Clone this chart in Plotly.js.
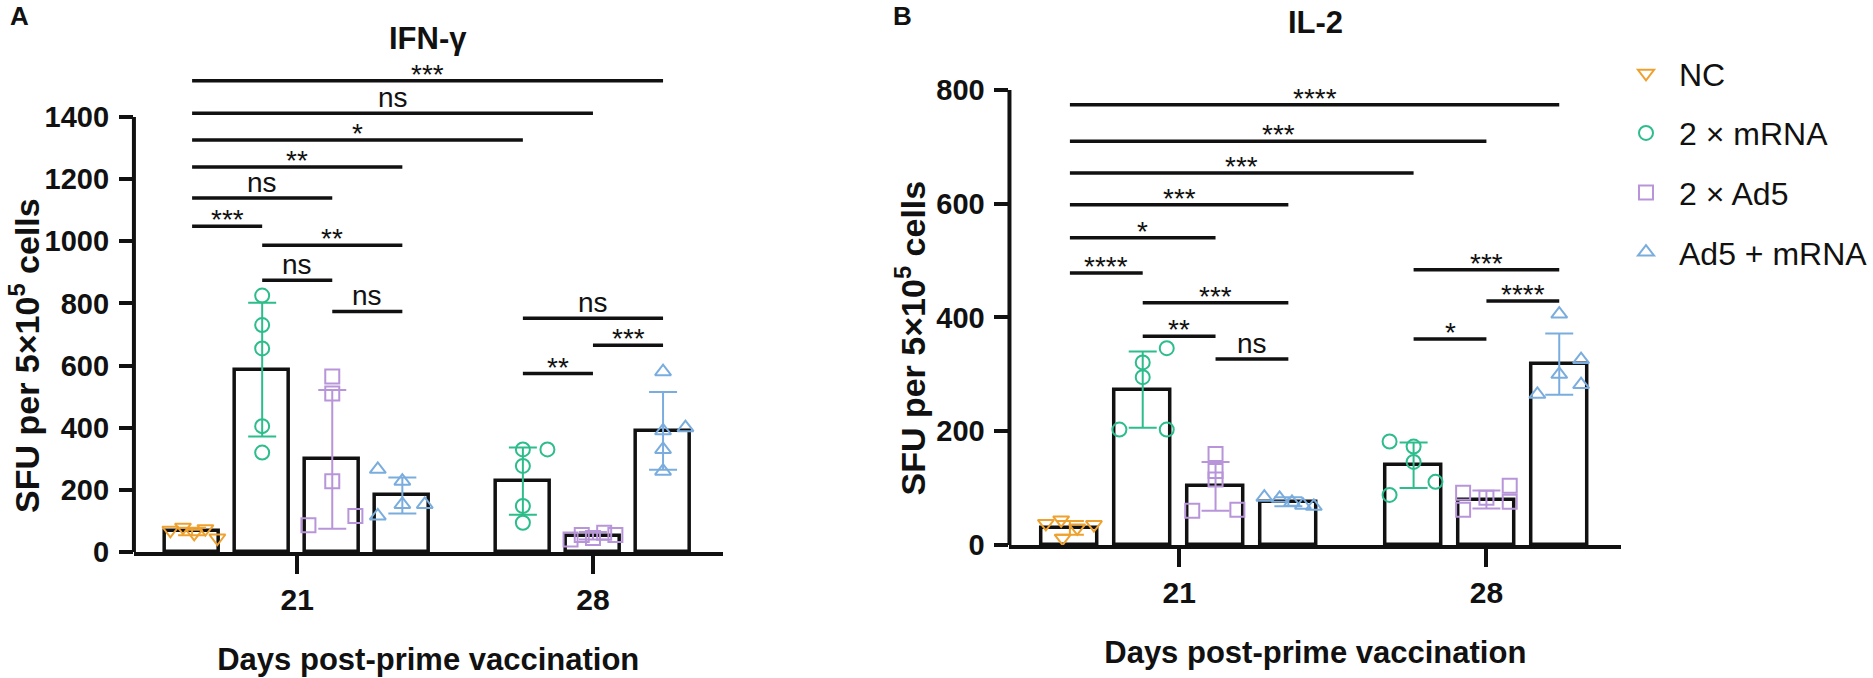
<!DOCTYPE html>
<html>
<head>
<meta charset="utf-8">
<script src="https://cdn.plot.ly/plotly-3.0.1.min.js"></script>
<style>
  html, body { margin: 0; padding: 0; background: #fff; }
</style>
</head>
<body>
<div id="chart" style="width:1873px;height:678px"></div>
<script>
var days = ["21", "28"];
var groups = ["NC", "2 × mRNA", "2 × Ad5", "Ad5 + mRNA"];

// IFN-γ: bar mean and SD for each group, [day 21, day 28] (null = no bar)
var ifnMean = [[66, null], [587, 228], [298, 52], [182, 390]];
var ifnSd = [[12, null], [215, 108], [223, 12], [58, 125]];
// single mice
var ifnDay21 = [[70, 80, 60, 75, 45], [825, 730, 655, 405, 320], [565, 510, 228, 116, 86], [266, 228, 153, 153, 116]];
var ifnDay28 = [null, [330, 330, 277, 148, 94], [40, 55, 45, 62, 55], [580, 400, 390, 330, 260]];

// IL-2
var il2Mean = [[30, null], [273, 140], [103, 80], [76, 318]];
var il2Sd = [[12, null], [67, 40], [43, 16], [8, 54]];
var il2Day21 = [[38, 44, 12, 30, 36], [346, 321, 295, 203, 203], [160, 130, 115, 60, 62], [84, 82, 75, 70, 68]];
var il2Day28 = [null, [182, 173, 146, 111, 88], [92, 62, 83, 104, 76], [406, 326, 300, 282, 265]];

// comparisons (same pairs in both panels)
var sigFrom = ["NC21", "NC21", "NC21", "NC21", "NC21", "NC21", "M21", "M21", "A21", "M28", "A28", "M28"];
var sigTo = ["AM28", "A28", "M28", "AM21", "A21", "M21", "AM21", "A21", "AM21", "AM28", "AM28", "A28"];
var ifnSigY = [1516, 1412, 1326, 1239, 1139, 1048, 987, 874, 774, 752, 665, 574];
var ifnSigText = ["***", "ns", "*", "**", "ns", "***", "**", "ns", "ns", "ns", "***", "**"];
var il2SigY = [774, 710, 654, 598, 540, 478, 426, 367, 327, 484, 429, 362];
var il2SigText = ["****", "***", "***", "***", "*", "****", "***", "**", "ns", "***", "****", "*"];

// look and placement
var colors = ["#EEA12F", "#2DBD8B", "#B895D9", "#7AADDE"];
var symbols = ["triangle-down-open", "circle-open", "square-open", "triangle-up-open"];
var barCode = { NC21: [0, 0], M21: [1, 0], A21: [2, 0], AM21: [3, 0], M28: [1, 1], A28: [2, 1], AM28: [3, 1] };
var dayCenter = [2.33, 6.55];
var ifnJit21 = [[-0.31, -0.13, 0.03, 0.19, 0.36], [0, 0, 0, 0, 0], [0, 0, 0, 0.33, -0.34], [-0.35, 0, 0, 0.32, -0.35]];
var ifnJit28 = [null, [0, 0.35, 0, 0, 0], [-0.32, -0.16, 0, 0.16, 0.32], [0, 0.32, 0, 0, 0]];
var il2Jit21 = [[-0.33, -0.12, -0.1, 0.1, 0.33], [0.33, 0, 0, -0.32, 0.33], [0, 0, 0, -0.32, 0.3], [-0.33, -0.12, 0.05, 0.2, 0.35]];
var il2Jit28 = [null, [-0.33, 0, 0, 0.3, -0.33], [-0.32, -0.32, 0, 0.32, 0.32], [0, 0.3, 0, 0.3, -0.3]];

var FONT = "Liberation Sans, Arial, Helvetica, sans-serif";
var INK = "#111";

function barX(g, d) {
  // day 21 has four bars, day 28 three (no NC)
  return d === 0 ? dayCenter[0] + g - 1.5 : dayCenter[1] + g - 2;
}

var data = [];
var shapes = [];
var annotations = [];

function addPanel(mean, sd, pts21, pts28, jit21, jit28, sigY, sigText, xa, ya, yTop, showLegend) {
  for (var g = 0; g < groups.length; g++) {
    var bx = [], by = [], be = [];
    for (var d = 0; d < days.length; d++) {
      if (mean[g][d] === null) continue;
      bx.push(barX(g, d));
      by.push(mean[g][d]);
      be.push(sd[g][d]);
    }
    data.push({
      type: "bar", x: bx, y: by, width: 0.77,
      xaxis: xa, yaxis: ya, showlegend: false, hoverinfo: "skip",
      marker: { color: "#fff", line: { color: INK, width: 3.5 } },
      error_y: { type: "data", array: be, color: colors[g], thickness: 2, width: 14 }
    });

    var px = [], py = [];
    [[pts21, jit21, 0], [pts28, jit28, 1]].forEach(function (set) {
      var vals = set[0][g];
      if (!vals) return;
      vals.forEach(function (v, i) {
        px.push(barX(g, set[2]) + set[1][g][i]);
        py.push(v);
      });
    });
    data.push({
      type: "scatter", mode: "markers", x: px, y: py,
      xaxis: xa, yaxis: ya, name: groups[g], legendgroup: groups[g],
      showlegend: showLegend, cliponaxis: false,
      marker: { symbol: symbols[g], size: 14, color: colors[g], line: { color: colors[g], width: 2 } }
    });
  }

  // y axis line only up to the last tick
  shapes.push({
    type: "line", xref: xa + " domain", yref: ya, x0: 0, x1: 0, y0: 0, y1: yTop,
    line: { color: INK, width: 4 }
  });

  for (var i = 0; i < sigFrom.length; i++) {
    var a = barCode[sigFrom[i]], b = barCode[sigTo[i]];
    var x0 = barX(a[0], a[1]), x1 = barX(b[0], b[1]);
    shapes.push({
      type: "line", xref: xa, yref: ya, x0: x0, x1: x1, y0: sigY[i], y1: sigY[i],
      line: { color: INK, width: 3.5 }
    });
    annotations.push({
      xref: xa, yref: ya, x: (x0 + x1) / 2, y: sigY[i], text: sigText[i],
      showarrow: false, yanchor: "bottom", yshift: sigText[i] === "ns" ? -2 : -11,
      font: { family: FONT, size: 28, color: INK }
    });
  }
}

addPanel(ifnMean, ifnSd, ifnDay21, ifnDay28, ifnJit21, ifnJit28, ifnSigY, ifnSigText, "x", "y", 1400, true);
addPanel(il2Mean, il2Sd, il2Day21, il2Day28, il2Jit21, il2Jit28, il2SigY, il2SigText, "x2", "y2", 800, false);

function paperText(text, xpx, ypx, size, opts) {
  var a = {
    xref: "paper", yref: "paper", x: xpx / 1873, y: 1 - ypx / 678, text: text,
    showarrow: false, xanchor: "center", yanchor: "middle",
    font: { family: FONT, size: size, color: INK, weight: "bold" }
  };
  for (var k in opts) a[k] = opts[k];
  return a;
}

annotations.push(paperText("A", 8, 16, 26, { xanchor: "left" }));
annotations.push(paperText("B", 891, 16, 26, { xanchor: "left" }));
annotations.push(paperText("IFN-γ", 428, 39, 31));
annotations.push(paperText("IL-2", 1316, 23, 31));
annotations.push(paperText("SFU per 5×10<sup>5</sup> cells", 24, 355, 34, { textangle: -90 }));
annotations.push(paperText("SFU per 5×10<sup>5</sup> cells", 910, 338, 34, { textangle: -90 }));

function xAxis(domain, anchor) {
  return {
    domain: domain, range: [0, 8.4], anchor: anchor, tickvals: dayCenter, ticktext: days,
    ticks: "outside", ticklen: 18, tickwidth: 4, tickcolor: INK,
    showline: true, linewidth: 4, linecolor: INK,
    showgrid: false, zeroline: false, automargin: false, fixedrange: true,
    ticklabelstandoff: 0,
    tickfont: { family: FONT, size: 30, color: INK, weight: "bold" },
    title: {
      text: "Days post-prime vaccination", standoff: 34,
      font: { family: FONT, size: 31, color: INK, weight: "bold" }
    }
  };
}

function yAxis(domain, range, step, top, anchor) {
  var vals = [];
  for (var v = 0; v <= top; v += step) vals.push(v);
  return {
    domain: domain, range: range, anchor: anchor, tickvals: vals,
    ticks: "outside", ticklen: 14, tickwidth: 4, tickcolor: INK,
    showline: false, showgrid: false, zeroline: false, automargin: false, fixedrange: true,
    ticklabelstandoff: 4,
    tickfont: { family: FONT, size: 29, color: INK, weight: "bold" }
  };
}

var layout = {
  width: 1873, height: 678,
  margin: { l: 0, r: 0, t: 0, b: 0 },
  paper_bgcolor: "#fff", plot_bgcolor: "#fff",
  barmode: "overlay", bargap: 0,
  font: { family: FONT, color: INK },
  xaxis: xAxis([134 / 1873, 723 / 1873], "y"),
  yaxis: yAxis([1 - 552 / 678, 1 - 60 / 678], [0, 1583], 200, 1400, "x"),
  xaxis2: xAxis([1010 / 1873, 1622 / 1873], "y2"),
  yaxis2: yAxis([1 - 545 / 678, 1 - 60 / 678], [0, 852.7], 200, 800, "x2"),
  showlegend: true,
  legend: {
    x: 1614 / 1873, y: 1 - 46 / 678, xanchor: "left", yanchor: "top",
    itemwidth: 56,
    font: { family: FONT, size: 32, color: INK },
    tracegroupgap: 15, bgcolor: "rgba(0,0,0,0)"
  },
  shapes: shapes,
  annotations: annotations
};

Plotly.newPlot("chart", data, layout, { displayModeBar: false, responsive: false });
</script>
</body>
</html>
